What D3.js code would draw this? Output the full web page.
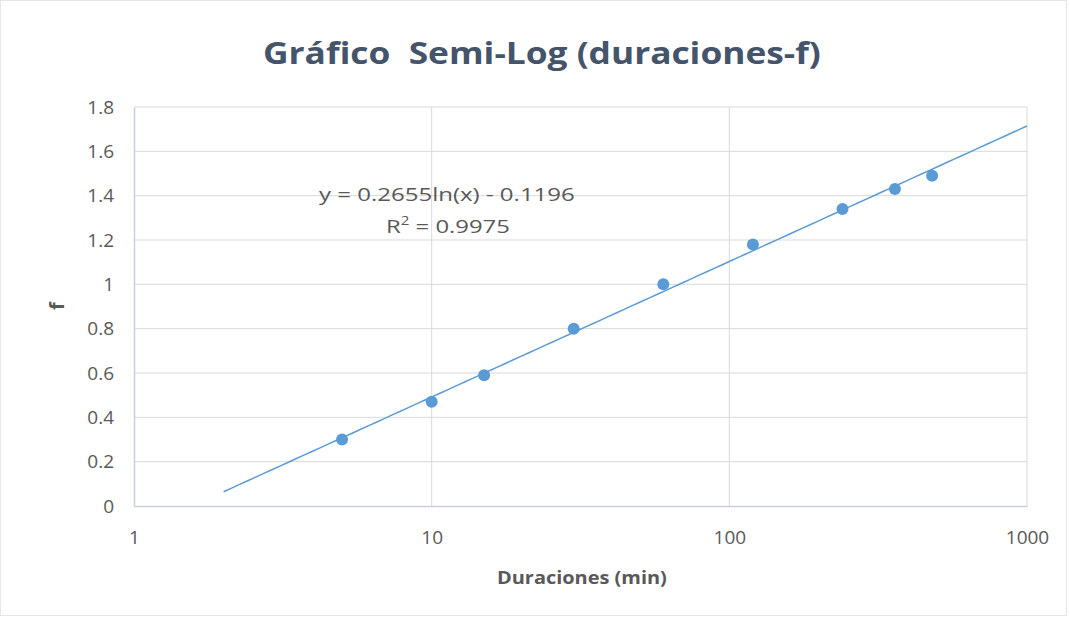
<!DOCTYPE html>
<html>
<head>
<meta charset="utf-8">
<script src="https://cdn.jsdelivr.net/npm/d3@7"></script>
<style>
  body { margin: 0; background: #fff; }
  text { font-family: "Open Sans", "Noto Sans", sans-serif; }
</style>
</head>
<body>
<div id="chart"></div>
<script>
// data
var duraciones = [5, 10, 15, 30, 60, 120, 240, 360, 480]
var fValues = [0.30, 0.47, 0.59, 0.80, 1.00, 1.18, 1.34, 1.43, 1.49]
var xTicks = [1, 10, 100, 1000]
var yTicks = [0, 0.2, 0.4, 0.6, 0.8, 1, 1.2, 1.4, 1.6, 1.8]
var trendA = 0.2655, trendB = -0.1196
var trendRange = [2, 1000]

var width = 1070, height = 620
var margin = {left: 134, right: 43, top: 107, bottom: 114}

var svg = d3.select('#chart').append('svg')
    .attr('width', width)
    .attr('height', height)

svg.append('rect')
    .attr('x', 0.5).attr('y', 0.5)
    .attr('width', width - 4).attr('height', height - 5)
    .attr('fill', '#fff')
    .attr('stroke', '#e6e6e6')

var x = d3.scaleLog()
    .domain([1, 1000])
    .range([margin.left, width - margin.right])
var y = d3.scaleLinear()
    .domain([0, 1.8])
    .range([height - margin.bottom, margin.top])

// stretch a text horizontally so it spans a given width starting at x0
function fitText(sel, x0, yb, w) {
    var len = sel.node().getComputedTextLength()
    sel.attr('x', 0).attr('y', 0)
        .attr('transform', 'translate(' + x0 + ',' + yb + ') scale(' + (w / len) + ',1)')
}

// gridlines
svg.append('g')
    .selectAll('line')
    .data(yTicks.slice(1))
    .enter().append('line')
    .attr('x1', x(1)).attr('x2', x(1000))
    .attr('y1', function (d) { return y(d) }).attr('y2', function (d) { return y(d) })
    .attr('stroke', '#d9d9d9').attr('stroke-width', 1)
svg.append('g')
    .selectAll('line')
    .data(xTicks.slice(1))
    .enter().append('line')
    .attr('x1', function (d) { return x(d) }).attr('x2', function (d) { return x(d) })
    .attr('y1', y(0)).attr('y2', y(1.8))
    .attr('stroke', '#d9d9d9').attr('stroke-width', 1)

// axes
var xAxis = svg.append('g')
    .attr('transform', 'translate(0,' + y(0) + ')')
    .call(d3.axisBottom(x).tickValues(xTicks).tickFormat(d3.format('d')).tickSize(0).tickPadding(25))
var yAxis = svg.append('g')
    .attr('transform', 'translate(' + x(1) + ',0)')
    .call(d3.axisLeft(y).tickValues(yTicks).tickFormat(function (d) { return d3.format('')(d) }).tickSize(0).tickPadding(20))

;[xAxis, yAxis].forEach(function (a) {
    a.select('.domain').attr('stroke', '#c9d0dc').attr('stroke-width', 1.5)
    a.selectAll('text')
        .attr('fill', '#595959')
        .style('font-size', '19px')
        .style('font-family', '"Open Sans", sans-serif')
})

// trendline
var lnx = d3.range(0, 101).map(function (i) {
    return Math.exp(Math.log(trendRange[0]) + i / 100 * (Math.log(trendRange[1]) - Math.log(trendRange[0])))
})
svg.append('path')
    .datum(lnx)
    .attr('fill', 'none')
    .attr('stroke', '#5b9bd5')
    .attr('stroke-width', 1.5)
    .attr('d', d3.line()
        .x(function (d) { return x(d) })
        .y(function (d) { return y(trendA * Math.log(d) + trendB) }))

// points
svg.append('g')
    .selectAll('circle')
    .data(duraciones)
    .enter().append('circle')
    .attr('cx', function (d) { return x(d) })
    .attr('cy', function (d, i) { return y(fValues[i]) })
    .attr('r', 6)
    .attr('fill', '#5b9bd5')

// equation
var eq = svg.append('text')
    .attr('fill', '#595959')
    .style('font-size', '19px')
    .text('y = 0.2655ln(x) - 0.1196')
fitText(eq, 319, 201, 256)
var r2 = svg.append('text')
    .attr('fill', '#595959')
    .style('font-size', '19px')
    .html('R<tspan dy="-8" style="font-size:12px">2</tspan><tspan dy="8"> = 0.9975</tspan>')
fitText(r2, 386, 233, 124)

// titles
var title = svg.append('text')
    .attr('fill', '#44546a')
    .style('font-size', '30px')
    .style('font-weight', 'bold')
    .attr('xml:space', 'preserve')
    .text('Gráfico  Semi-Log (duraciones-f)')
fitText(title, 263, 64, 558)
var xt = svg.append('text')
    .attr('fill', '#595959')
    .style('font-size', '18px')
    .style('font-weight', 'bold')
    .text('Duraciones (min)')
fitText(xt, 497, 584, 170)
svg.append('text')
    .attr('transform', 'translate(64,306) rotate(-90)')
    .attr('text-anchor', 'middle')
    .attr('fill', '#595959')
    .style('font-size', '20px')
    .style('font-weight', 'bold')
    .text('f')
</script>
</body>
</html>
